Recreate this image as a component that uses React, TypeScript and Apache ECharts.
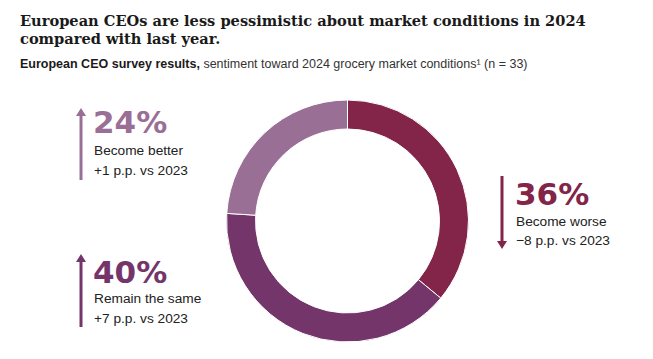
import React, { useEffect, useRef } from "react";
import * as echarts from "echarts";

const categories = ["Become worse", "Remain the same", "Become better"];
const values = [36, 40, 24];
const changes = ["\u22128 p.p. vs 2023", "+7 p.p. vs 2023", "+1 p.p. vs 2023"];
const colors = ["#832449", "#74366a", "#9a6f96"];

const TITLE_1 = "European CEOs are less pessimistic about market conditions in 2024";
const TITLE_2 = "compared with last year.";
const SUB_BOLD = "European CEO survey results,";
const SUB_REG = " sentiment toward 2024 grocery market conditions\u00b9 (n = 33)";

const SANS = "'Liberation Sans', Arial, sans-serif";
const NUMF = "'DejaVu Sans', 'Liberation Sans', sans-serif";

function arrow(x: number, y0: number, y1: number, color: string, up: boolean) {
  const head = 8;
  const hw = 5;
  const els: any[] = [];
  if (up) {
    els.push({ type: "line", shape: { x1: x, y1: y0 + head - 1, x2: x, y2: y1 }, style: { stroke: color, lineWidth: 3 } });
    els.push({ type: "polygon", shape: { points: [[x, y0], [x - hw, y0 + head], [x + hw, y0 + head]] }, style: { fill: color } });
  } else {
    els.push({ type: "line", shape: { x1: x, y1: y0, x2: x, y2: y1 - head + 1 }, style: { stroke: color, lineWidth: 3 } });
    els.push({ type: "polygon", shape: { points: [[x, y1], [x - hw, y1 - head], [x + hw, y1 - head]] }, style: { fill: color } });
  }
  return els;
}

function block(x: number, numY: number, l1: number, l2: number, idx: number) {
  const c = colors[idx];
  return [
    { type: "text", x, y: numY, style: { text: values[idx] + "%", font: `bold 31px ${NUMF}`, fill: c, textVerticalAlign: "middle" } },
    { type: "text", x: x + 1, y: l1, style: { text: categories[idx], font: `13.7px ${SANS}`, fill: "#222", textVerticalAlign: "middle" } },
    { type: "text", x: x + 1, y: l2, style: { text: changes[idx], font: `13.7px ${SANS}`, fill: "#222", textVerticalAlign: "middle" } },
  ];
}

export default function App() {
  const ref = useRef<HTMLDivElement>(null);
  useEffect(() => {
    document.body.style.margin = "0";
    const chart = echarts.init(ref.current!, null, { renderer: "svg" });
    chart.setOption({
      animation: false,
      backgroundColor: "#ffffff",
      series: [
        {
          type: "pie",
          center: [347.5, 221],
          radius: [92, 121],
          startAngle: 90,
          clockwise: true,
          silent: true,
          label: { show: false },
          labelLine: { show: false },
          itemStyle: { borderColor: "#ffffff", borderWidth: 1 },
          data: categories.map((n, i) => ({ name: n, value: values[i], itemStyle: { color: colors[i] } })),
        },
      ],
      graphic: [
        { type: "text", x: 20, y: 11.5, style: { text: TITLE_1 + "\n" + TITLE_2, font: `bold 14.6px 'DejaVu Serif', serif`, fill: "#1a1a1a", lineHeight: 18, textVerticalAlign: "top" } },
        {
          type: "text",
          x: 20,
          y: 63.5,
          style: {
            text: `{b|${SUB_BOLD}}{r|${SUB_REG}}`,
            textVerticalAlign: "middle",
            rich: {
              b: { font: `bold 12.5px ${SANS}`, fill: "#1a1a1a" },
              r: { font: `12.5px ${SANS}`, fill: "#333" },
            },
          },
        },
        ...arrow(81, 108, 180, colors[2], true),
        ...block(93, 121.5, 150.5, 170, 2),
        ...arrow(81, 254, 327, colors[1], true),
        ...block(93, 271.5, 298, 318, 1),
        ...arrow(502, 176, 249, colors[0], false),
        ...block(515, 193.5, 221, 240.5, 0),
      ],
    });
    return () => chart.dispose();
  }, []);
  return <div ref={ref} style={{ width: 653, height: 359 }} />;
}
